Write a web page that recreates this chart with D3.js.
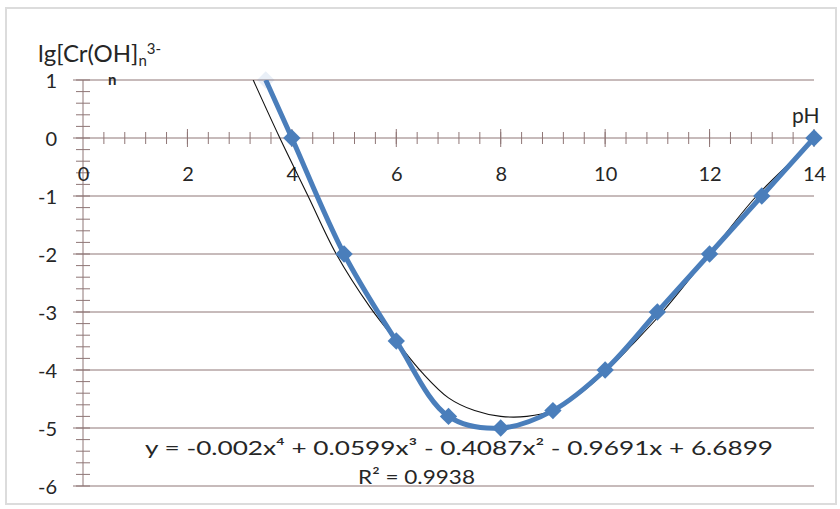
<!DOCTYPE html>
<html><head><meta charset="utf-8">
<script src="https://cdn.jsdelivr.net/npm/d3@7"></script>
<style>
body{margin:0;background:#fff;}
svg text{font-family:Lato,"Open Sans",sans-serif;fill:#262626;}
</style></head>
<body><svg id="c" width="840" height="509"></svg>
<script>
// Data
const pH = [3.5, 4, 5, 6, 7, 8, 9, 10, 11, 12, 13, 14];
const lgC = [1, 0, -2, -3.5, -4.8, -5, -4.7, -4, -3, -2, -1, 0];
// polynomial trend line
const trendX = [3.26, 3.77, 4.31, 4.85, 5.5, 6.0, 6.5, 7.0, 7.5, 8.0, 8.5, 9.0, 9.5, 10.04, 10.5, 11.1, 12.0, 12.9, 14.0];
const trendY = [1, 0, -1, -2, -2.92, -3.5, -4.05, -4.48, -4.7, -4.8, -4.8, -4.7, -4.42, -4.0, -3.58, -3.0, -2.0, -1.0, -0.05];
const xTicks = [0, 2, 4, 6, 8, 10, 12, 14];
const yTicks = [1, 0, -1, -2, -3, -4, -5, -6];
const eqText = "y = -0.002x⁴ + 0.0599x³ - 0.4087x² - 0.9691x + 6.6899";
const r2Text = "R² = 0.9938";

const svg = d3.select("#c");
const x = d3.scaleLinear().domain([0, 14]).range([83, 814]);
const y = d3.scaleLinear().domain([-6, 1]).range([486, 80]);
const axisCol = "#8f7676";

// outer frame
svg.append("rect").attr("x", 6).attr("y", 8).attr("width", 830).attr("height", 496)
  .attr("fill", "#fff").attr("stroke", "#dcdcdc").attr("stroke-width", 2);

svg.append("defs").append("clipPath").attr("id", "pc")
  .append("rect").attr("x", x(0)).attr("y", y(1)).attr("width", x(14) - x(0)).attr("height", y(-6) - y(1));

// gridlines
svg.append("g").selectAll("line").data(yTicks).join("line")
  .attr("x1", x(0) - 10).attr("x2", x(14)).attr("y1", d => y(d)).attr("y2", d => y(d))
  .attr("stroke", axisCol).attr("stroke-width", 1);

// y minor ticks
const yMinor = d3.range(-6, 1.001, 0.2);
svg.append("g").selectAll("line").data(yMinor).join("line")
  .attr("x1", x(0) - 7).attr("x2", x(0) + 7).attr("y1", d => y(d)).attr("y2", d => y(d))
  .attr("stroke", axisCol).attr("stroke-width", 1);
// y axis line
svg.append("line").attr("x1", x(0)).attr("x2", x(0)).attr("y1", y(1)).attr("y2", y(-6))
  .attr("stroke", axisCol).attr("stroke-width", 1);

// x minor + major ticks
const xMinor = d3.range(0.4, 14.001, 0.4);
svg.append("g").selectAll("line").data(xMinor).join("line")
  .attr("x1", d => x(d)).attr("x2", d => x(d)).attr("y1", y(0) - 6).attr("y2", y(0) + 6)
  .attr("stroke", axisCol).attr("stroke-width", 1);
svg.append("g").selectAll("line").data(xTicks.filter(d => d > 0)).join("line")
  .attr("x1", d => x(d)).attr("x2", d => x(d)).attr("y1", y(0) - 9).attr("y2", y(0) + 9)
  .attr("stroke", axisCol).attr("stroke-width", 1);

// y tick labels via axis
const ya = svg.append("g").attr("transform", `translate(${x(0) - 26},0)`)
  .call(d3.axisLeft(y).tickValues(yTicks).tickSize(0).tickPadding(0).tickFormat(d => String(d)));
ya.select(".domain").remove();
ya.selectAll("text").attr("font-size", 20).attr("font-family", "Lato").attr("fill", "#262626").attr("dy", "0.36em");

// x tick labels via axis
const xa = svg.append("g").attr("transform", `translate(0,${y(0) + 43})`)
  .call(d3.axisBottom(x).tickValues(xTicks).tickSize(0).tickPadding(0).tickFormat(d => String(d)));
xa.select(".domain").remove();
xa.selectAll("text").attr("font-size", 20).attr("font-family", "Lato").attr("fill", "#262626").attr("dy", 0).attr("y", 0);

// trend line (thin black)
svg.append("path").datum(trendX.map((v, i) => [v, trendY[i]]))
  .attr("clip-path", "url(#pc)")
  .attr("d", d3.line().x(d => x(d[0])).y(d => y(d[1])).curve(d3.curveCatmullRom.alpha(0.5)))
  .attr("fill", "none").attr("stroke", "#111").attr("stroke-width", 1.1);

// blue smoothed series
const pts = pH.map((v, i) => [v, lgC[i]]);
svg.append("path").datum(pts)
  .attr("clip-path", "url(#pc)")
  .attr("d", d3.line().x(d => x(d[0])).y(d => y(d[1])).curve(d3.curveCatmullRom.alpha(0.5)))
  .attr("fill", "none").attr("stroke", "#4a7ebb").attr("stroke-width", 5).attr("stroke-linejoin", "round");

svg.append("g").selectAll("path").data(pts).join("path")
  .attr("transform", d => `translate(${x(d[0])},${y(d[1])}) rotate(45)`)
  .attr("d", d3.symbol(d3.symbolSquare, 150)())
  .attr("fill", "#4a7ebb").attr("opacity", (d, i) => i === 0 ? 0.12 : 1);

// title
const t = svg.append("text").attr("x", 38).attr("y", 62).attr("font-size", 24);
t.append("tspan").text("lg[Cr(OH]");
t.append("tspan").attr("font-size", 15).attr("dy", 4).text("n");
t.append("tspan").attr("font-size", 15).attr("dy", -12).text("3-");
svg.append("text").attr("x", 108).attr("y", 85).attr("font-size", 15).attr("font-weight", "bold").text("n");

// pH label
svg.append("text").attr("x", 792).attr("y", 123).attr("font-size", 21).text("pH");

// trend equation
svg.append("text").attr("x", 145).attr("y", 455).attr("font-size", 20)
  .attr("textLength", 628).attr("lengthAdjust", "spacingAndGlyphs").text(eqText);
svg.append("text").attr("x", 358).attr("y", 484).attr("font-size", 20)
  .attr("textLength", 117).attr("lengthAdjust", "spacingAndGlyphs").text(r2Text);
</script></body></html>
